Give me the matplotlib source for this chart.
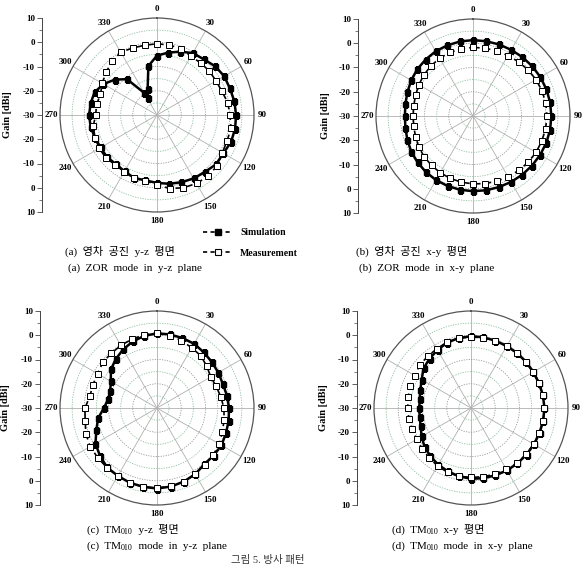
import numpy as np
import matplotlib
matplotlib.use('Agg')
import matplotlib.pyplot as plt
from matplotlib.lines import Line2D
from matplotlib.ticker import MultipleLocator

SERIF = ['Liberation Serif', 'Noto Sans CJK KR', 'DejaVu Sans']

# ---------------- data (gain in dBi vs. angle in degrees) ----------------
ang10 = list(range(0, 360, 10))

# (a) ZOR mode, y-z plane
a_sim_ang = sorted(list(range(0, 340, 10)) + [333, 340, 350])
a_sim = [-5.5, -3.9, -2.2, -0.5, 0.0, 1.3, 2.0, 2.0, 2.4, 2.6,
         2.7, 2.5, 1.6, 1.7, 0.7, 0.2, -0.5, -1.2, -2.0, -2.6,
         -2.4, -3.2, -3.6, -3.0, -3.2, -2.7, -2.2, -2.0, -2.2, -2.6,
         -4.5, -7.3, -10.7, -19.5, -22.0, -18.7, -9.5]
a_meas = [-0.6, -0.7, -0.9, -2.0, -2.0, -1.8, -1.9, -1.5, -0.4, 0.1,
          1.0, 0.8, 1.1, 2.4, 2.9, 2.6, 1.9, 0.8, -1.1, -2.5,
          -2.2, -3.0, -3.2, -2.5, -2.5, -2.8, -3.3, -4.7, -4.7, -5.2,
          -3.9, -2.6, -1.1, -0.1, -0.6, -0.8]

# (b) ZOR mode, x-y plane
b_sim = [1.3, 1.3, 1.4, 1.5, 1.7, 1.9, 2.1, 2.2, 2.3, 2.3,
         2.3, 2.2, 2.0, 1.8, 1.6, 1.4, 1.2, 1.1, 1.0, 0.9,
         0.7, 0.5, 0.2, -0.2, -0.6, -1.2, -1.7, -1.9, -1.7, -1.2,
         -0.6, 0.0, 0.4, 0.8, 1.0, 1.2]
b_meas = [-1.7, -1.6, -1.4, -1.2, -0.8, -0.4, 0.0, 0.3, 0.5, 0.5,
          0.4, 0.2, 0.0, -0.3, -0.7, -1.0, -1.4, -1.7, -2.0, -2.3,
          -2.6, -3.0, -3.4, -3.8, -4.2, -4.8, -5.2, -5.3, -5.2, -4.8,
          -4.2, -3.6, -3.0, -2.5, -2.1, -1.9]

# (c) TM010 mode, y-z plane
c_sim = [0.8, 0.8, 0.7, 0.6, 0.0, -0.5, -0.8, -1.1, -0.7, -0.3,
         0.0, 0.3, 0.7, 0.5, 0.3, 1.5, 2.3, 2.9, 3.2, 3.0,
         2.8, 2.3, 2.0, 0.7, -0.7, -3.4, -5.3, -8.1, -9.5, -9.5,
         -8.0, -5.2, -3.6, -2.1, -0.8, 0.2]
c_meas = [0.8, 0.3, -0.5, -1.3, -1.9, -3.2, -4.4, -4.0, -3.3, -2.4,
          -1.9, -1.3, -0.3, 0.2, 0.5, 1.5, 2.3, 2.7, 3.0, 3.0,
          2.8, 2.4, 2.1, 1.9, 1.8, 1.2, 0.1, -0.3, -1.9, -1.9,
          -1.7, -0.8, -0.6, -0.2, 0.2, 0.7]

# (d) TM010 mode, x-y plane
d_sim = [-0.4, -0.4, -0.5, -0.5, -0.4, -0.4, -0.3, -0.1, 0.1, 0.3,
         0.2, 0.1, 0.0, -0.1, -0.2, -0.3, -0.5, -0.6, -0.8, -1.4,
         -2.2, -3.0, -4.0, -5.0, -6.5, -7.9, -8.5, -8.7, -8.5, -7.8,
         -6.5, -4.5, -3.4, -2.4, -1.3, -0.7]
d_meas = [-0.7, -0.6, -0.5, -0.6, -0.5, -0.4, -0.5, -0.3, 0.0, 0.3,
          0.2, 0.0, -0.2, -0.3, -0.5, -0.8, -1.0, -1.2, -1.4, -1.4,
          -1.8, -2.4, -3.2, -3.8, -4.2, -4.1, -4.0, -3.9, -3.7, -3.4,
          -3.3, -2.4, -2.2, -1.8, -1.1, -0.8]

angle_labels = ['0', '30', '60', '90', '120', '150', '180', '210', '240', '270', '300', '330']
gain_ticks = [-40, -30, -20, -10, 0, 10, 20, 30, 40]
gain_labels = ['10', '0', '-10', '-20', '-30', '-20', '-10', '0', '10']

legend_labels = ['Simulation', 'Measurement']
# caption pieces: (text, is_subscript)
cap_kr = [[('(a)  영차  공진  y-z  평면', False)],
          [('(b)  영차  공진  x-y  평면', False)],
          [('(c)  TM', False), ('010', True), ('  y-z  평면', False)],
          [('(d)  TM', False), ('010', True), ('  x-y  평면', False)]]
cap_en = [[('(a)  ZOR  mode  in  y-z  plane', False)],
          [('(b)  ZOR  mode  in  x-y  plane', False)],
          [('(c)  TM', False), ('010', True), ('  mode  in  y-z  plane', False)],
          [('(d)  TM', False), ('010', True), ('  mode  in  x-y  plane', False)]]
fig_caption = '그림 5. 방사 패턴'

# ---------------- layout ----------------
W, H = 586, 569
fig = plt.figure(figsize=(W / 100, H / 100), dpi=100)
renderer = fig.canvas.get_renderer()
R = 97

def fx(px):
    return px / W

def fy(py):
    return 1 - py / H

panels = [
    dict(c=(157, 115), gx=42, lx=8, sim_ang=a_sim_ang, sim=a_sim, meas=a_meas),
    dict(c=(473, 116), gx=358, lx=325, sim_ang=ang10, sim=b_sim, meas=b_meas),
    dict(c=(157, 408), gx=40, lx=6, sim_ang=ang10, sim=c_sim, meas=c_meas),
    dict(c=(471, 408), gx=357, lx=324, sim_ang=ang10, sim=d_sim, meas=d_meas),
]

def closed(angs, vals):
    t = np.deg2rad(list(angs) + [angs[0] + 360])
    v = list(vals) + [vals[0]]
    return t, v

for p in panels:
    cx, cy = p['c']
    ax = fig.add_axes([fx(cx - R), fy(cy + R), fx(2 * R), (2 * R) / H],
                      projection='polar')
    ax.set_theta_zero_location('N')
    ax.set_theta_direction(-1)
    ax.set_ylim(-30, 10)
    ax.set_thetagrids(range(0, 360, 30), labels=[''] * 12)
    ax.set_rgrids([-20, -10, 0], labels=['', '', ''])
    ax.xaxis.grid(True, color='#b0b0b0', lw=0.6, ls='-')
    ax.yaxis.grid(True, color='#9a9a9a', lw=0.6, ls=(0, (1.5, 1.5)))
    ax.tick_params(length=0)
    ax.spines['polar'].set_color('#555555')
    ax.spines['polar'].set_linewidth(0.9)
    th = np.linspace(0, 2 * np.pi, 361)
    for rr in [-25, -15, -5, 5]:
        ax.plot(th, np.full_like(th, rr), color='#8fbf9f', lw=0.6,
                ls=(0, (1.5, 1.5)), zorder=1)
    for i, lab in enumerate(angle_labels):
        ax.text(np.deg2rad(30 * i), 13.6, lab, ha='center', va='center',
                fontsize=6.5, fontweight='bold', family=SERIF)
    t, v = closed(p['sim_ang'], p['sim'])
    ax.plot(t, v, color='black', lw=1.8, zorder=4)
    ax.plot(np.deg2rad(p['sim_ang']), p['sim'], ls='none', marker='s', ms=3.6,
            mfc='black', mec='black', zorder=5)
    t, v = closed(ang10, p['meas'])
    ax.plot(t, v, color='black', lw=1.2, ls=(0, (4, 2.5)), zorder=3)
    ax.plot(np.deg2rad(ang10), p['meas'], ls='none', marker='s', ms=4.0,
            mfc='white', mec='black', mew=0.7, zorder=6)

    # left gain axis
    gax = fig.add_axes([fx(p['gx']), fy(cy + R), 0.001, (2 * R) / H])
    gax.set_ylim(-40, 40)
    gax.set_xticks([])
    for s in ['top', 'right', 'bottom']:
        gax.spines[s].set_visible(False)
    gax.spines['left'].set_color('#444444')
    gax.spines['left'].set_linewidth(0.7)
    gax.set_yticks(gain_ticks)
    gax.set_yticklabels(gain_labels, fontsize=6.5, fontweight='bold', family=SERIF)
    gax.yaxis.set_minor_locator(MultipleLocator(5))
    gax.tick_params(axis='y', which='major', length=3.5, width=0.6, pad=1.5, color='#444444')
    gax.tick_params(axis='y', which='minor', length=2, width=0.5, color='#444444')
    gax.patch.set_alpha(0)
    fig.text(fx(p['lx']), fy(cy), 'Gain [dBi]', rotation=90, ha='center', va='center',
             fontsize=7.5, fontweight='bold', family=SERIF)

# legend
h_sim = Line2D([], [], color='black', lw=1.2, ls=(0, (2.5, 2)), marker='s', ms=5,
               mfc='black', mec='black')
h_meas = Line2D([], [], color='black', lw=1.2, ls=(0, (2.5, 2)), marker='s', ms=5,
                mfc='white', mec='black', mew=0.8)
fig.legend([h_sim, h_meas], legend_labels, loc='center left',
           bbox_to_anchor=(fx(203), fy(243)), frameon=False,
           prop=dict(family=SERIF, weight='bold', size=7),
           handlelength=3.0, labelspacing=1.2, handletextpad=0.8,
           borderaxespad=0, borderpad=0)

# captions (drawn piece by piece so the subscript sits on the baseline)
def rich(x_px, y_base_px, pieces, size=8):
    x = x_px
    for s, sub in pieces:
        t = fig.text(fx(x), fy(y_base_px + (1.5 if sub else 0)), s,
                     ha='left', va='baseline', family=SERIF,
                     fontsize=size * 0.72 if sub else size)
        x += t.get_window_extent(renderer=renderer).width

cap_pos = [(65, 255, 68), (356, 255, 359), (87, 533, 87), (392, 533, 392)]
for (x1, y1, x2), k, e in zip(cap_pos, cap_kr, cap_en):
    rich(x1, y1, k)
    rich(x2, y1 + 16, e)

fig.text(fx(268), fy(560), fig_caption, ha='center', va='center', fontsize=7.5,
         family=SERIF, color='#333333')

fig.savefig('out.png', dpi=100)
